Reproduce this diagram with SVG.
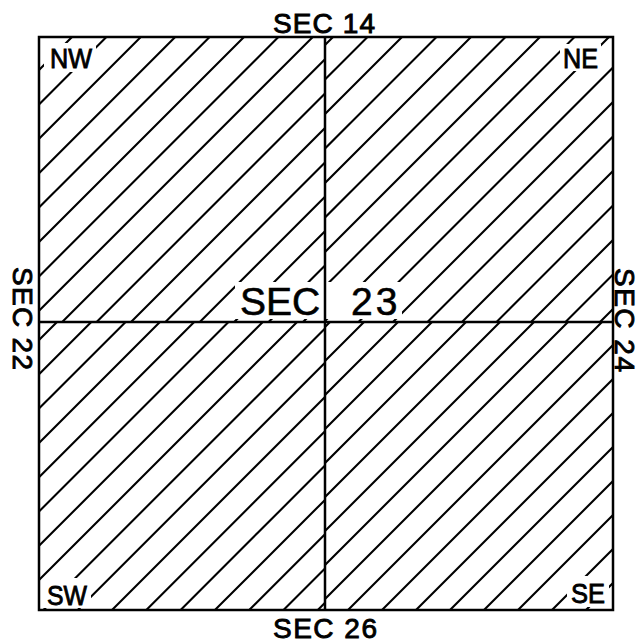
<svg xmlns="http://www.w3.org/2000/svg" width="643" height="643" viewBox="0 0 643 643">
<style>
.h line{stroke:#000;stroke-width:2.1;stroke-linecap:round}
.fr{stroke:#000;stroke-width:2.5;fill:none}
.m{fill:#fff}
.t{font-family:"Liberation Sans","Arial",sans-serif;fill:#000;stroke:#000;stroke-width:0.9;font-size:28px}
.big{font-size:39px;stroke-width:0.6}
</style>
<defs>
<clipPath id="cnw"><rect x="39" y="37" width="286" height="285"/></clipPath>
<clipPath id="cne"><rect x="325" y="37" width="288" height="285"/></clipPath>
<clipPath id="csw"><rect x="39" y="322" width="286" height="288"/></clipPath>
<clipPath id="cse"><rect x="325" y="322" width="288" height="288"/></clipPath>
</defs>
<rect width="643" height="643" fill="#fff"/>
<g id="hatch-nw" class="h" clip-path="url(#cnw)">
<line x1="-541" y1="650" x2="109" y2="0"/>
<line x1="-506.6" y1="650" x2="143.4" y2="0"/>
<line x1="-472.2" y1="650" x2="177.8" y2="0"/>
<line x1="-437.8" y1="650" x2="212.2" y2="0"/>
<line x1="-403.4" y1="650" x2="246.6" y2="0"/>
<line x1="-369" y1="650" x2="281" y2="0"/>
<line x1="-334.6" y1="650" x2="315.4" y2="0"/>
<line x1="-300.2" y1="650" x2="349.8" y2="0"/>
<line x1="-265.8" y1="650" x2="384.2" y2="0"/>
<line x1="-231.4" y1="650" x2="418.6" y2="0"/>
<line x1="-197" y1="650" x2="453" y2="0"/>
<line x1="-162.6" y1="650" x2="487.4" y2="0"/>
<line x1="-128.2" y1="650" x2="521.8" y2="0"/>
<line x1="-93.8" y1="650" x2="556.2" y2="0"/>
<line x1="-59.4" y1="650" x2="590.6" y2="0"/>
<line x1="-25" y1="650" x2="625" y2="0"/>
</g>
<g id="hatch-ne" class="h" clip-path="url(#cne)">
<line x1="-280" y1="650" x2="370" y2="0"/>
<line x1="-245.5" y1="650" x2="404.5" y2="0"/>
<line x1="-211" y1="650" x2="439" y2="0"/>
<line x1="-176.5" y1="650" x2="473.5" y2="0"/>
<line x1="-142" y1="650" x2="508" y2="0"/>
<line x1="-107.5" y1="650" x2="542.5" y2="0"/>
<line x1="-73" y1="650" x2="577" y2="0"/>
<line x1="-38.5" y1="650" x2="611.5" y2="0"/>
<line x1="-4" y1="650" x2="646" y2="0"/>
<line x1="30.5" y1="650" x2="680.5" y2="0"/>
<line x1="65" y1="650" x2="715" y2="0"/>
<line x1="99.5" y1="650" x2="749.5" y2="0"/>
<line x1="134" y1="650" x2="784" y2="0"/>
<line x1="168.5" y1="650" x2="818.5" y2="0"/>
<line x1="203" y1="650" x2="853" y2="0"/>
<line x1="237.5" y1="650" x2="887.5" y2="0"/>
<line x1="272" y1="650" x2="922" y2="0"/>
</g>
<g id="hatch-sw" class="h" clip-path="url(#csw)">
<line x1="-271" y1="650" x2="379" y2="0"/>
<line x1="-236.7" y1="650" x2="413.3" y2="0"/>
<line x1="-202.4" y1="650" x2="447.6" y2="0"/>
<line x1="-168.1" y1="650" x2="481.9" y2="0"/>
<line x1="-133.8" y1="650" x2="516.2" y2="0"/>
<line x1="-99.5" y1="650" x2="550.5" y2="0"/>
<line x1="-65.2" y1="650" x2="584.8" y2="0"/>
<line x1="-30.9" y1="650" x2="619.1" y2="0"/>
<line x1="3.4" y1="650" x2="653.4" y2="0"/>
<line x1="37.7" y1="650" x2="687.7" y2="0"/>
<line x1="72" y1="650" x2="722" y2="0"/>
<line x1="106.3" y1="650" x2="756.3" y2="0"/>
<line x1="140.6" y1="650" x2="790.6" y2="0"/>
<line x1="174.9" y1="650" x2="824.9" y2="0"/>
<line x1="209.2" y1="650" x2="859.2" y2="0"/>
<line x1="243.5" y1="650" x2="893.5" y2="0"/>
<line x1="277.8" y1="650" x2="927.8" y2="0"/>
</g>
<g id="hatch-se" class="h" clip-path="url(#cse)">
<line x1="2" y1="650" x2="652" y2="0"/>
<line x1="36" y1="650" x2="686" y2="0"/>
<line x1="70" y1="650" x2="720" y2="0"/>
<line x1="104" y1="650" x2="754" y2="0"/>
<line x1="138" y1="650" x2="788" y2="0"/>
<line x1="172" y1="650" x2="822" y2="0"/>
<line x1="206" y1="650" x2="856" y2="0"/>
<line x1="240" y1="650" x2="890" y2="0"/>
<line x1="274" y1="650" x2="924" y2="0"/>
<line x1="308" y1="650" x2="958" y2="0"/>
<line x1="342" y1="650" x2="992" y2="0"/>
<line x1="376" y1="650" x2="1026" y2="0"/>
<line x1="410" y1="650" x2="1060" y2="0"/>
<line x1="444" y1="650" x2="1094" y2="0"/>
<line x1="478" y1="650" x2="1128" y2="0"/>
<line x1="512" y1="650" x2="1162" y2="0"/>
<line x1="546" y1="650" x2="1196" y2="0"/>
</g>
<g id="masks">
<rect class="m" x="44" y="43" width="52" height="29"/>
<rect class="m" x="560" y="44" width="41" height="27"/>
<rect class="m" x="43" y="578" width="48" height="30"/>
<rect class="m" x="567" y="576" width="42" height="31"/>
<rect class="m" x="235" y="282" width="167" height="37"/>
</g>
<g id="connectors">
<rect class="fr" x="39" y="37" width="574" height="573"/>
<line class="fr" x1="325" y1="37" x2="325" y2="610"/>
<line class="fr" x1="39" y1="322" x2="613" y2="322"/>
</g>
<g id="label-nw"><text class="t" x="50" y="68" textLength="42" lengthAdjust="spacingAndGlyphs">NW</text></g>
<g id="label-ne"><text class="t" x="563" y="68" textLength="35" lengthAdjust="spacingAndGlyphs">NE</text></g>
<g id="label-sw"><text class="t" x="47" y="605" textLength="40" lengthAdjust="spacingAndGlyphs">SW</text></g>
<g id="label-se"><text class="t" x="571" y="603" textLength="34" lengthAdjust="spacingAndGlyphs">SE</text></g>
<g id="label-sec14"><text class="t" x="273" y="33" textLength="102" lengthAdjust="spacing">SEC 14</text></g>
<g id="label-sec26"><text class="t" x="273" y="638" textLength="104" lengthAdjust="spacing">SEC 26</text></g>
<g id="label-sec22"><text class="t" transform="translate(13,267) rotate(90)" x="0" y="0" textLength="103" lengthAdjust="spacing">SEC 22</text></g>
<g id="label-sec24"><text class="t" transform="translate(615,268) rotate(90)" x="0" y="0" textLength="104" lengthAdjust="spacing">SEC 24</text></g>
<g id="label-sec23"><text class="t big" x="240" y="315">SEC<tspan dx="17" letter-spacing="3"> 23</tspan></text></g>
</svg>
